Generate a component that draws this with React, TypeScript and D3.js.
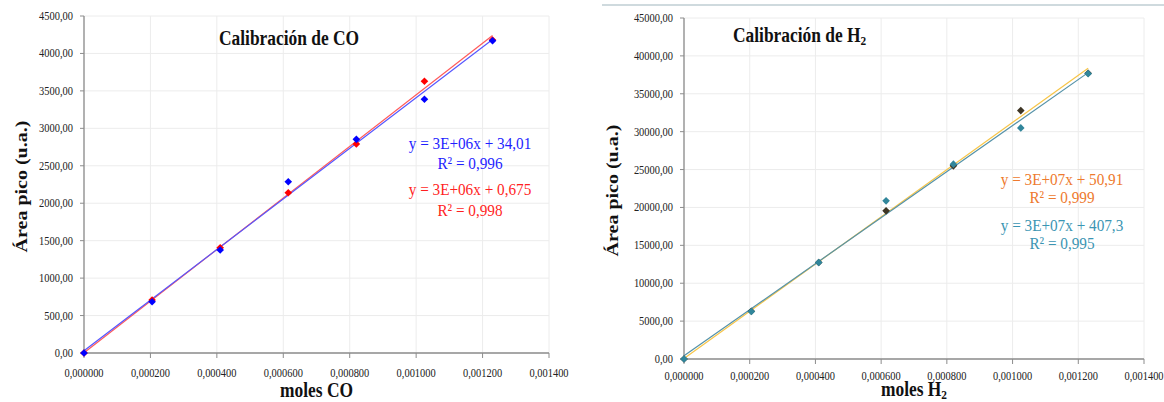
import React from "react";
import * as d3 from "d3";

// Moles injected (same for both gases)
const molesX = [0, 0.000205, 0.00041, 0.000615, 0.00082, 0.001025, 0.00123];

// CO peak areas, two calibration runs
const coAreaRed = [0, 708, 1406, 2140, 2791, 3628, 4180];
const coAreaBlue = [0, 685, 1375, 2287, 2853, 3388, 4170];

// H2 peak areas, two calibration runs
const h2AreaDark = [0, 6300, 12737, 19553, 25487, 32779, 37700];
const h2AreaTeal = [0, 6276, 12737, 20872, 25711, 30497, 37657];

const xTicks = [0, 0.0002, 0.0004, 0.0006, 0.0008, 0.001, 0.0012, 0.0014];
const coYTicks = [0, 500, 1000, 1500, 2000, 2500, 3000, 3500, 4000, 4500];
const h2YTicks = [0, 5000, 10000, 15000, 20000, 25000, 30000, 35000, 40000, 45000];

const coEquations = [
  { eq: "y = 3E+06x + 34,01", r2: "R² = 0,996", color: "#1f1fff" },
  { eq: "y = 3E+06x + 0,675", r2: "R² = 0,998", color: "#ff1f1f" },
];
const h2Equations = [
  { eq: "y = 3E+07x + 50,91", r2: "R² = 0,999", color: "#ee7a2e" },
  { eq: "y = 3E+07x + 407,3", r2: "R² = 0,995", color: "#3b95b3" },
];

const SERIF = "'Liberation Serif', 'Times New Roman', serif";
const SQ = 0.87; // horizontal condensing of all text

function leastSquares(xs: number[], ys: number[]) {
  const mx = d3.mean(xs) as number;
  const my = d3.mean(ys) as number;
  let sxy = 0;
  let sxx = 0;
  xs.forEach((x, i) => {
    sxy += (x - mx) * (ys[i] - my);
    sxx += (x - mx) * (x - mx);
  });
  const slope = sxy / sxx;
  return { slope, intercept: my - slope * mx };
}

const commaFmt = (digits: number) => (v: number) => d3.format(`.${digits}f`)(v).replace(".", ",");

function SqText(props: {
  x: number;
  y: number;
  anchor?: string;
  size: number;
  weight?: string;
  fill?: string;
  rotate?: number;
  children: React.ReactNode;
}) {
  const { x, y, anchor = "start", size, weight = "normal", fill = "#222", rotate, children } = props;
  const t = `translate(${x},${y}) scale(${SQ},1)` + (rotate ? ` rotate(${rotate})` : "");
  return (
    <text transform={t} textAnchor={anchor} fontSize={size} fontWeight={weight} fill={fill} fontFamily={SERIF}>
      {children}
    </text>
  );
}

type Series = { values: number[]; marker: string; line: string };

function diamond(r: number) {
  return `M0,${-r}L${r},0L0,${r}L${-r},0Z`;
}

function Panel(props: {
  left: number;
  right: number;
  top: number;
  bottom: number;
  yTicks: number[];
  series: Series[];
  title: React.ReactNode;
  titleX: number;
  titleY: number;
  xTitle: React.ReactNode;
  xTitleY: number;
  yTitleX: number;
  equations: { eq: string; r2: string; color: string }[];
  eqX: number;
  eqY: number[];
  xLabelY: number;
}) {
  const { left, right, top, bottom, yTicks, series, equations } = props;
  const x = d3.scaleLinear().domain([0, 0.0014]).range([left, right]);
  const y = d3.scaleLinear().domain([0, yTicks[yTicks.length - 1]]).range([bottom, top]);
  const fx = commaFmt(6);
  const fy = commaFmt(2);
  const xMax = d3.max(molesX) as number;

  return (
    <g>
      {/* gridlines */}
      {yTicks.map((t) => (
        <line key={"gy" + t} x1={left} x2={right} y1={y(t)} y2={y(t)} stroke="#ececec" strokeWidth={1} />
      ))}
      {xTicks.map((t) => (
        <line key={"gx" + t} x1={x(t)} x2={x(t)} y1={top} y2={bottom} stroke="#ececec" strokeWidth={1} />
      ))}
      {/* axes */}
      <line x1={left} x2={left} y1={top} y2={bottom} stroke="#8c8c8c" strokeWidth={1.3} />
      <line x1={left} x2={right} y1={bottom} y2={bottom} stroke="#8c8c8c" strokeWidth={1.3} />
      {yTicks.map((t) => (
        <line key={"ty" + t} x1={left - 4} x2={left} y1={y(t)} y2={y(t)} stroke="#8c8c8c" strokeWidth={1} />
      ))}
      {xTicks.map((t) => (
        <line key={"tx" + t} x1={x(t)} x2={x(t)} y1={bottom} y2={bottom + 5} stroke="#8c8c8c" strokeWidth={1} />
      ))}
      {yTicks.map((t) => (
        <SqText key={"ly" + t} x={left - 11} y={y(t) + 4} anchor="end" size={12}>
          {fy(t)}
        </SqText>
      ))}
      {xTicks.map((t) => (
        <SqText key={"lx" + t} x={x(t)} y={props.xLabelY} anchor="middle" size={12}>
          {fx(t)}
        </SqText>
      ))}
      {/* trendlines over the measured range */}
      {series.map((s, i) => {
        const { slope, intercept } = leastSquares(molesX, s.values);
        const pts: [number, number][] = [
          [0, intercept],
          [xMax, intercept + slope * xMax],
        ];
        const path = d3
          .line<[number, number]>()
          .x((d) => x(d[0]))
          .y((d) => y(d[1]))(pts);
        return <path key={"tl" + i} d={path || ""} fill="none" stroke={s.line} strokeWidth={1.2} />;
      })}
      {/* markers */}
      {series.map((s, i) => (
        <g key={"m" + i}>
          {s.values.map((v, j) => (
            <path key={j} d={diamond(3.8)} transform={`translate(${x(molesX[j])},${y(v)})`} fill={s.marker} />
          ))}
        </g>
      ))}
      {/* equations */}
      {equations.map((e, i) => (
        <g key={"eq" + i}>
          <SqText x={props.eqX} y={props.eqY[i * 2]} anchor="middle" size={17.5} fill={e.color}>
            {e.eq}
          </SqText>
          <SqText x={props.eqX} y={props.eqY[i * 2 + 1]} anchor="middle" size={17.5} fill={e.color}>
            {e.r2}
          </SqText>
        </g>
      ))}
      {/* titles */}
      <SqText x={props.titleX} y={props.titleY} size={20} weight="bold" fill="#111">
        {props.title}
      </SqText>
      <SqText x={(left + right) / 2} y={props.xTitleY} anchor="middle" size={20} weight="bold" fill="#111">
        {props.xTitle}
      </SqText>
      <SqText x={props.yTitleX} y={(top + bottom) / 2 + 2} anchor="middle" size={20} weight="bold" fill="#111" rotate={-90}>
        Área pico (u.a.)
      </SqText>
    </g>
  );
}

export default function App() {
  return (
    <svg width={1164} height={402} style={{ position: "absolute", left: 0, top: 0, background: "#fff" }}>
      <rect width={1164} height={402} fill="#fff" />
      <Panel
        left={84}
        right={549}
        top={16}
        bottom={353}
        yTicks={coYTicks}
        series={[
          { values: coAreaRed, marker: "#ff0000", line: "#ff5a5a" },
          { values: coAreaBlue, marker: "#0000ff", line: "#5555ff" },
        ]}
        title="Calibración de CO"
        titleX={219}
        titleY={44.5}
        xTitle="moles CO"
        xTitleY={397}
        yTitleX={27}
        equations={coEquations}
        eqX={470}
        eqY={[148.5, 169, 195, 215.5]}
        xLabelY={377}
      />
      <line x1={602} x2={1164} y1={5} y2={5} stroke="#cfdade" strokeWidth={2} />
      <Panel
        left={684}
        right={1144}
        top={18}
        bottom={359}
        yTicks={h2YTicks}
        series={[
          { values: h2AreaDark, marker: "#3e3524", line: "#f7c548" },
          { values: h2AreaTeal, marker: "#31869b", line: "#5592a8" },
        ]}
        title={
          <>
            <tspan>Calibración de H</tspan>
            <tspan fontSize={13} dy={3}>2</tspan>
          </>
        }
        titleX={733}
        titleY={42}
        xTitle={
          <>
            <tspan>moles H</tspan>
            <tspan fontSize={13} dy={3}>2</tspan>
          </>
        }
        xTitleY={396}
        yTitleX={618}
        equations={h2Equations}
        eqX={1062}
        eqY={[184.5, 203, 230.5, 249]}
        xLabelY={380}
      />
    </svg>
  );
}
